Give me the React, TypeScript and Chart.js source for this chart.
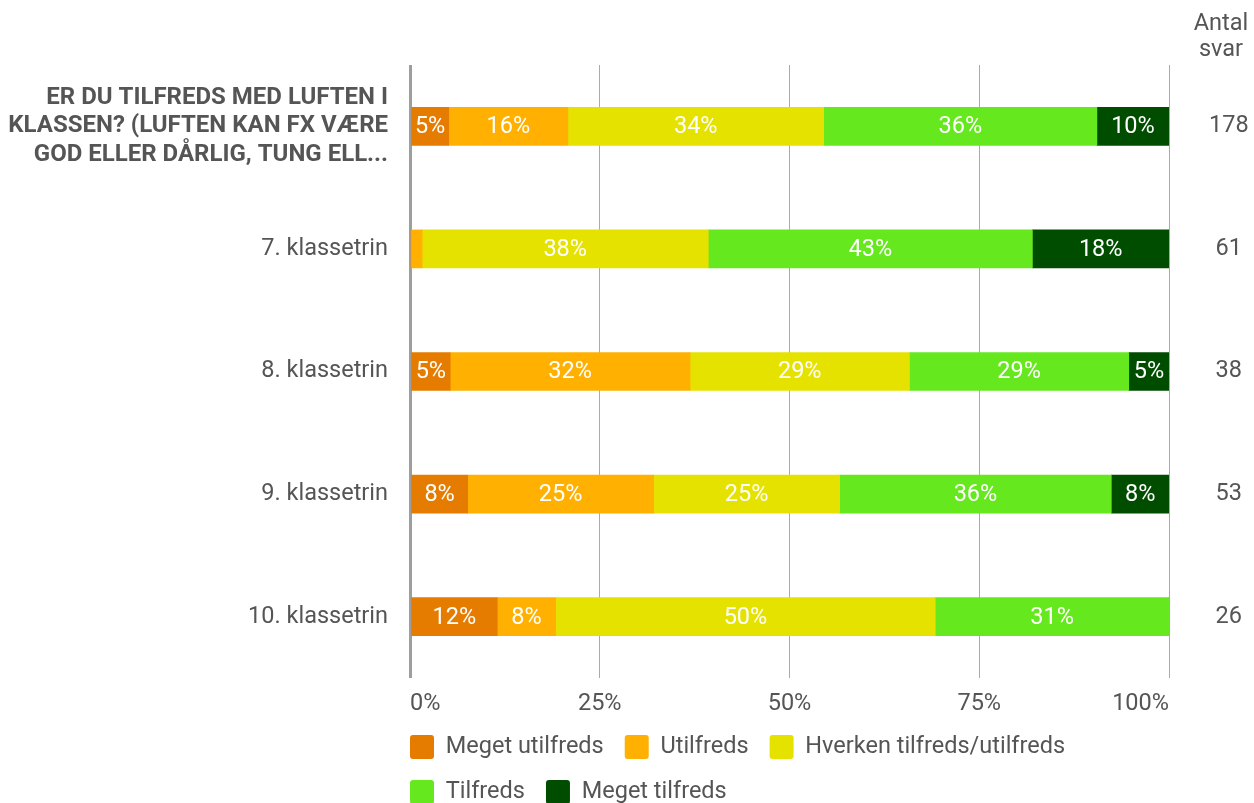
import React, { useEffect, useRef } from "react";
import { Chart, registerables } from "chart.js";

Chart.register(...registerables);

const categories: (string | string[])[] = [
  ["ER DU TILFREDS MED LUFTEN I", "KLASSEN? (LUFTEN KAN FX VÆRE", "GOD ELLER DÅRLIG, TUNG ELL..."],
  "7. klassetrin",
  "8. klassetrin",
  "9. klassetrin",
  "10. klassetrin",
];
const antalSvar = ["178", "61", "38", "53", "26"];

const seriesNames = ["Meget utilfreds", "Utilfreds", "Hverken tilfreds/utilfreds", "Tilfreds", "Meget tilfreds"];
const seriesColors = ["#E57C00", "#FFB000", "#E6E200", "#66E81E", "#004D00"];

const megetUtilfreds = [5.1, 0, 5.3, 7.6, 11.5];
const utilfreds = [15.7, 1.6, 31.6, 24.5, 7.7];
const hverken = [33.7, 37.7, 28.9, 24.5, 50.0];
const tilfreds = [36.0, 42.7, 28.9, 35.8, 30.8];
const megetTilfreds = [9.5, 18.0, 5.3, 7.6, 0];

const xTicks = [0, 25, 50, 75, 100];

const TEXT = "#555555";
const FONT = "Roboto";
const FS = 23.5;

const valueLabels = {
  id: "valueLabels",
  afterDatasetsDraw(chart: any) {
    const ctx = chart.ctx;
    ctx.save();
    ctx.font = `${FS}px ${FONT}`;
    ctx.fillStyle = "#ffffff";
    ctx.textAlign = "center";
    ctx.textBaseline = "middle";
    chart.data.datasets.forEach((ds: any, i: number) => {
      const meta = chart.getDatasetMeta(i);
      meta.data.forEach((bar: any, j: number) => {
        const v = ds.data[j];
        if (v < 3) return;
        const p = bar.getProps(["x", "base", "y"], true);
        ctx.fillText(`${Math.round(v)}%`, (p.x + p.base) / 2, p.y + 1);
      });
    });
    ctx.restore();
  },
};

const extras = {
  id: "extras",
  afterLayout(chart: any) {
    const lg = chart.legend;
    if (lg) {
      const pad = lg.options.labels.padding;
      lg.left -= pad;
      lg.right -= pad;
    }
  },
  afterDraw(chart: any) {
    const ctx = chart.ctx;
    ctx.save();
    ctx.font = `${FS}px ${FONT}`;
    ctx.fillStyle = TEXT;
    ctx.textAlign = "center";
    ctx.textBaseline = "middle";
    const x = chart.chartArea.right + 52;
    ctx.fillText("Antal", x, 24);
    ctx.fillText("svar", x, 50);
    ctx.restore();
  },
};

export default function App() {
  const ref = useRef<HTMLCanvasElement>(null);
  useEffect(() => {
    if (!ref.current) return;
    const datasetsData = [megetUtilfreds, utilfreds, hverken, tilfreds, megetTilfreds];
    const chart = new Chart(ref.current, {
      type: "bar",
      data: {
        labels: categories,
        datasets: datasetsData.map((d, i) => ({
          label: seriesNames[i],
          data: d,
          backgroundColor: seriesColors[i],
          borderWidth: 0,
          barThickness: 38,
          yAxisID: "y",
        })),
      },
      options: {
        indexAxis: "y",
        animation: false,
        responsive: true,
        maintainAspectRatio: false,
        layout: { padding: { top: 65, bottom: -11, left: 0, right: 0 } },
        plugins: {
          tooltip: { enabled: false },
          legend: {
            position: "bottom",
            align: "start",
            fullSize: false,
            labels: {
              color: TEXT,
              font: { family: FONT, size: FS },
              boxWidth: 24,
              boxHeight: 24,
              padding: 21,
              useBorderRadius: true,
              borderRadius: 3,
            },
          },
        },
        scales: {
          x: {
            stacked: true,
            min: 0,
            max: 100,
            afterBuildTicks(scale: any) {
              scale.ticks = xTicks.map((v) => ({ value: v }));
            },
            afterFit(scale: any) {
              scale.height = 36;
            },
            ticks: {
              color: TEXT,
              font: { family: FONT, size: FS },
              padding: 12,
              align: "inner",
              maxRotation: 0,
              callback: (v: any) => `${v}%`,
            },
            grid: {
              drawTicks: false,
              color: (c: any) => (c.tick && c.tick.value === 0 ? "#9e9e9e" : "#aaaaaa"),
              lineWidth: (c: any) => (c.tick && c.tick.value === 0 ? 3 : 1),
            },
            border: { display: false },
          },
          y: {
            type: "category",
            stacked: true,
            position: "left",
            afterFit(scale: any) {
              scale.width = 410;
            },
            grid: { display: false, drawTicks: false },
            border: { display: false },
            ticks: {
              padding: 22,
              color: TEXT,
              font: (c: any) =>
                c.index === 0
                  ? { family: FONT, size: 24, weight: "bold", lineHeight: 1.2 }
                  : { family: FONT, size: FS },
            },
          },
          y2: {
            type: "category",
            position: "right",
            labels: antalSvar,
            offset: true,
            afterFit(scale: any) {
              scale.width = 85;
            },
            grid: { display: false, drawTicks: false },
            border: { display: false },
            ticks: {
              padding: 40,
              crossAlign: "center",
              color: TEXT,
              font: { family: FONT, size: FS },
            },
          },
        },
      },
      plugins: [valueLabels, extras],
    } as any);
    return () => chart.destroy();
  }, []);
  return (
    <div style={{ position: "absolute", left: 0, top: 0, width: 1254, height: 803 }}>
      <canvas ref={ref} />
    </div>
  );
}
